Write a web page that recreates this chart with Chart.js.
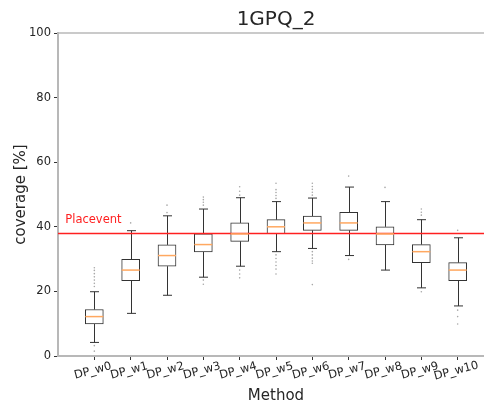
<!DOCTYPE html>
<html>
<head>
<meta charset="utf-8">
<script src="https://cdn.jsdelivr.net/npm/chart.js@4"></script>
<style>
  body { margin: 0; overflow: hidden; background: #fff; }
  #wrap { width: 498px; height: 410px; }
</style>
</head>
<body>
<div id="wrap"><canvas id="boxChart" width="498" height="410"></canvas></div>
<script>
const methods = ['DP_w0', 'DP_w1', 'DP_w2', 'DP_w3', 'DP_w4', 'DP_w5', 'DP_w6', 'DP_w7', 'DP_w8', 'DP_w9', 'DP_w10'];
const whiskLo = [4.2, 13.2, 18.8, 24.4, 27.8, 32.3, 33.3, 31.1, 26.6, 21.1, 15.5];
const q1      = [9.9, 23.3, 27.8, 32.2, 35.5, 37.9, 38.9, 38.9, 34.4, 28.9, 23.3];
const median  = [12.2, 26.6, 31.1, 34.5, 37.8, 40.0, 41.2, 41.2, 37.8, 32.3, 26.6];
const q3      = [14.4, 29.9, 34.4, 37.8, 41.2, 42.2, 43.3, 44.5, 40.0, 34.5, 28.9];
const whiskHi = [19.9, 38.8, 43.4, 45.5, 49.0, 47.8, 48.9, 52.3, 47.8, 42.2, 36.6];
const fliers = [
    [21.5, 22.5, 23.5, 24.5, 25.5, 26.5, 27.3, 3.2, 1.5],
    [41.2],
    [44.4, 46.7],
    [46.7, 47.6, 48.4, 49.2, 23.5, 22.2],
    [49.8, 51.0, 52.4, 26.6, 25.4, 24.2],
    [48.8, 49.7, 50.6, 51.5, 53.5, 31.3, 30.2, 29.1, 28.0, 26.9, 25.4],
    [49.8, 50.7, 51.6, 52.5, 53.5, 32.3, 31.3, 30.3, 29.4, 28.7, 22.1],
    [55.7, 29.9],
    [52.2],
    [43.6, 44.5, 45.5, 19.9],
    [38.9, 14.2, 12.2, 9.9]
];
const placevent = 37.9;

const font = "'DejaVu Sans', sans-serif";
const textColor = '#262626';
const spineColor = '#b8b8b8';

const boxData = methods.map((m, i) => ({ x: i + 1, y: [q1[i], q3[i]] }));
const flierData = [];
fliers.forEach((arr, i) => arr.forEach(v => flierData.push({ x: i + 1, y: v })));

// whiskers, caps, medians, top spine, rotated x labels, Placevent text
const boxExtras = {
    id: 'boxExtras',
    beforeDatasetsDraw(chart) {
        const { ctx, scales: { x, y } } = chart;
        ctx.save();
        ctx.strokeStyle = '#333';
        ctx.lineWidth = 1;
        methods.forEach((m, i) => {
            const px = Math.round(x.getPixelForValue(i + 1)) + 0.5;
            const half = 4.5;
            ctx.beginPath();
            ctx.moveTo(px, y.getPixelForValue(q3[i]));
            ctx.lineTo(px, y.getPixelForValue(whiskHi[i]));
            ctx.moveTo(px, y.getPixelForValue(q1[i]));
            ctx.lineTo(px, y.getPixelForValue(whiskLo[i]));
            ctx.moveTo(px - half, y.getPixelForValue(whiskHi[i]));
            ctx.lineTo(px + half, y.getPixelForValue(whiskHi[i]));
            ctx.moveTo(px - half, y.getPixelForValue(whiskLo[i]));
            ctx.lineTo(px + half, y.getPixelForValue(whiskLo[i]));
            ctx.stroke();
        });
        ctx.restore();
    },
    afterDatasetsDraw(chart) {
        const { ctx, chartArea, scales: { x, y } } = chart;
        ctx.save();
        ctx.strokeStyle = '#ffa860';
        ctx.lineWidth = 1.5;
        methods.forEach((m, i) => {
            const px = x.getPixelForValue(i + 1);
            const py = y.getPixelForValue(median[i]);
            ctx.beginPath();
            ctx.moveTo(px - 9, py);
            ctx.lineTo(px + 9, py);
            ctx.stroke();
        });
        // top spine
        ctx.strokeStyle = spineColor;
        ctx.lineWidth = 1.5;
        ctx.beginPath();
        ctx.moveTo(chartArea.left, chartArea.top);
        ctx.lineTo(chartArea.right, chartArea.top);
        ctx.stroke();
        // Placevent label
        ctx.fillStyle = '#ff2020';
        ctx.font = '11.5px ' + font;
        ctx.textAlign = 'left';
        ctx.textBaseline = 'middle';
        ctx.fillText('Placevent', x.getPixelForValue(0.2), y.getPixelForValue(42.1));
        // rotated tick labels
        ctx.fillStyle = textColor;
        ctx.textAlign = 'center';
        methods.forEach((m, i) => {
            ctx.save();
            ctx.translate(x.getPixelForValue(i + 1) - 1.5, chartArea.bottom + 15);
            ctx.rotate(-15 * Math.PI / 180);
            ctx.fillText(m, 0, 0);
            ctx.restore();
        });
        ctx.restore();
    }
};

new Chart(document.getElementById('boxChart'), {
    type: 'bar',
    data: {
        datasets: [
            {
                type: 'line',
                data: [{ x: 0, y: placevent }, { x: 12, y: placevent }],
                borderColor: '#ff2020',
                borderWidth: 1.5,
                pointRadius: 0,
                order: 0
            },
            {
                type: 'bar',
                data: boxData,
                backgroundColor: '#ffffff',
                borderColor: '#333',
                borderWidth: 1,
                borderSkipped: false,
                barThickness: 18,
                order: 2
            },
            {
                type: 'scatter',
                data: flierData,
                pointRadius: 0.8,
                pointBackgroundColor: '#a8a8a8',
                pointBorderWidth: 0,
                order: 1
            }
        ]
    },
    options: {
        responsive: false,
        animation: false,
        layout: { padding: 0 },
        plugins: {
            legend: { display: false },
            tooltip: { enabled: false },
            title: {
                display: true,
                text: '1GPQ_2',
                fullSize: false,
                color: textColor,
                font: { family: font, size: 20, weight: 'normal' },
                padding: { top: 8, bottom: 1 }
            }
        },
        scales: {
            x: {
                type: 'linear',
                min: 0,
                max: 12,
                offset: false,
                afterBuildTicks: (scale) => {
                    scale.ticks = methods.map((m, i) => ({ value: i + 1 }));
                },
                afterFit: (scale) => { scale.height = 54; },
                ticks: { display: false },
                grid: { drawOnChartArea: false, drawTicks: true, tickLength: 4, tickColor: '#333', offset: false },
                border: { color: spineColor, width: 2 },
                title: {
                    display: true,
                    text: 'Method',
                    color: textColor,
                    font: { family: font, size: 15 },
                    padding: { top: 0, bottom: 5 }
                }
            },
            y: {
                min: 0,
                max: 100,
                afterFit: (scale) => { scale.width = 58; },
                ticks: {
                    stepSize: 20,
                    color: textColor,
                    padding: 3,
                    font: { family: font, size: 11.5 }
                },
                grid: { drawOnChartArea: false, drawTicks: true, tickLength: 4, tickColor: '#333' },
                border: { color: spineColor, width: 2 },
                title: {
                    display: true,
                    text: 'coverage [%]',
                    color: textColor,
                    font: { family: font, size: 15 },
                    padding: { top: 12, bottom: 0 }
                }
            }
        }
    },
    plugins: [boxExtras]
});
</script>
</body>
</html>
